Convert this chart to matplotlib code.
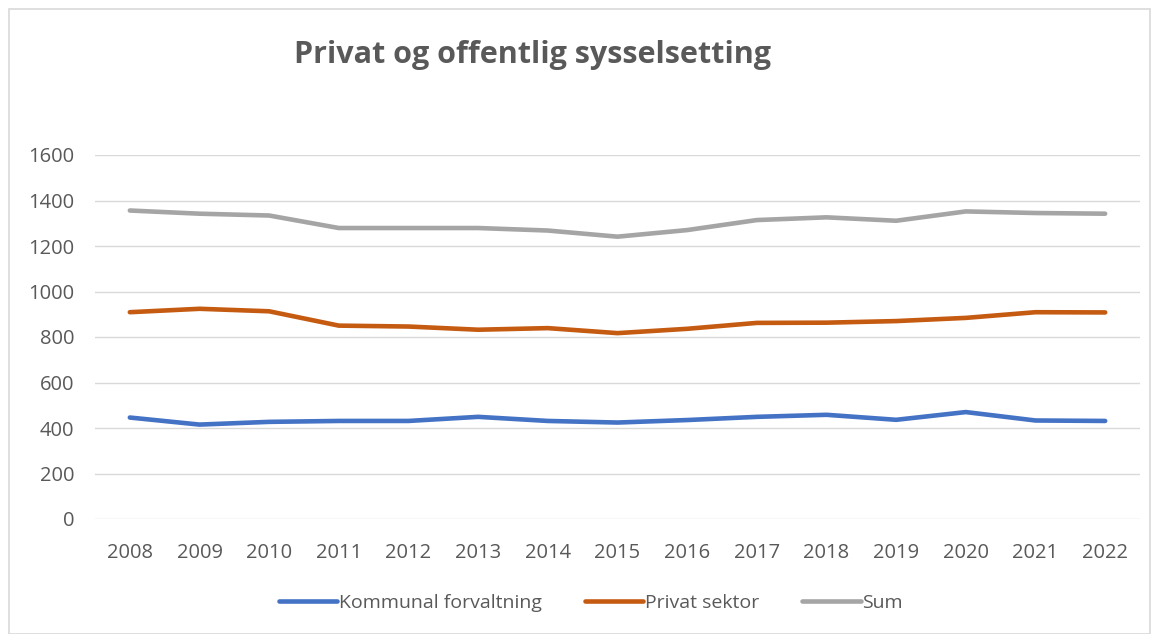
import numpy as np
import matplotlib.pyplot as plt
from matplotlib.patches import Rectangle

# Data
years = ['2008', '2009', '2010', '2011', '2012', '2013', '2014', '2015',
         '2016', '2017', '2018', '2019', '2020', '2021', '2022']
kommunal = [446, 415, 427, 431, 431, 449, 431, 424, 435, 449, 458, 436, 470, 433, 431]
privat = [909, 924, 913, 850, 846, 832, 839, 817, 836, 862, 863, 870, 884, 909, 908]
total = [1356, 1342, 1334, 1279, 1279, 1279, 1268, 1241, 1270, 1314, 1326, 1311, 1352, 1345, 1342]

plt.rcParams['font.family'] = ['Open Sans', 'DejaVu Sans']
text_col = '#595959'

fig = plt.figure(figsize=(11.57, 6.34), dpi=100)
ax = fig.add_axes([95 / 1157, 1 - 519 / 634, 1045 / 1157, 364 / 634])

x = np.arange(len(years))
ax.plot(x, kommunal, color='#4472C4', lw=3.3, solid_capstyle='round', label='Kommunal forvaltning')
ax.plot(x, privat, color='#C55A11', lw=3.3, solid_capstyle='round', label='Privat sektor')
ax.plot(x, total, color='#A5A5A5', lw=3.3, solid_capstyle='round', label='Sum')

ax.set_xlim(-0.5, len(years) - 0.5)
ax.set_ylim(0, 1600)
ax.set_yticks(range(0, 1601, 200))
ax.set_xticks(x)
ax.set_xticklabels(years)
ax.grid(axis='y', color='#D9D9D9', lw=1)
ax.set_axisbelow(True)
for s in ax.spines.values():
    s.set_visible(False)
ax.tick_params(length=0, labelsize=14.5, colors=text_col)
ax.tick_params(axis='x', pad=17)
ax.tick_params(axis='y', pad=15)

fig.text(532 / 1157, 1 - 55 / 634, 'Privat og offentlig sysselsetting',
         ha='center', va='center', fontsize=22, fontweight='bold', color=text_col)

leg = fig.legend(loc='center', bbox_to_anchor=(591 / 1157, 1 - 603 / 634), ncol=3,
                 frameon=False, fontsize=14, handlelength=3.0, handletextpad=0.1,
                 columnspacing=2.2)
for t in leg.get_texts():
    t.set_color(text_col)

# chart border
fig.patches.append(Rectangle((9 / 1157, 0), 1141 / 1157, 1 - 9 / 634,
                             transform=fig.transFigure, fill=False,
                             edgecolor='#D9D9D9', lw=1.2))

fig.savefig('out.png', dpi=100)
